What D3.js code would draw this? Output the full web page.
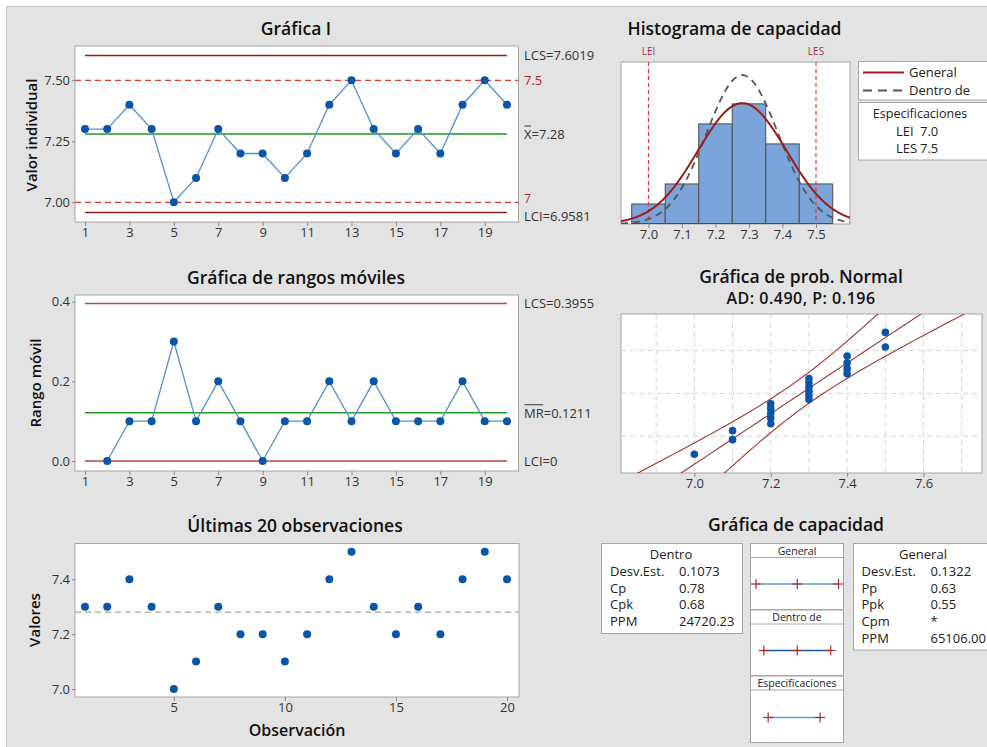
<!DOCTYPE html>
<html><head><meta charset="utf-8">
<script src="https://cdn.jsdelivr.net/npm/d3@7"></script>
<style>
body{margin:0;background:#fff}
svg{display:block}
text{font-family:"Open Sans","Noto Sans",sans-serif}
</style>
</head><body>
<svg id="c" width="987" height="747"></svg>
<script>
// ---------------- DATA ----------------
const observations = [1,2,3,4,5,6,7,8,9,10,11,12,13,14,15,16,17,18,19,20];
const values = [7.3,7.3,7.4,7.3,7.0,7.1,7.3,7.2,7.2,7.1,7.2,7.4,7.5,7.3,7.2,7.3,7.2,7.4,7.5,7.4];
const movingRanges = [null,0.0,0.1,0.1,0.3,0.1,0.2,0.1,0.0,0.1,0.1,0.2,0.1,0.2,0.1,0.1,0.1,0.2,0.1,0.1];

const iLimits = {lcs:7.6019, mean:7.28, lci:6.9581};
const specs = {lei:7.0, les:7.5};
const mrLimits = {lcs:0.3955, mean:0.1211, lci:0};
const sdWithin = 0.1073, sdOverall = 0.1322;

const binCenters = [7.0,7.1,7.2,7.3,7.4,7.5];
const binCounts  = [1,2,5,6,4,2];
const binWidth = 0.1;

const iTicksX = [1,3,5,7,9,11,13,15,17,19];
const iTicksY = [7.00,7.25,7.50];
const mrTicksY = [0.0,0.2,0.4];
const lastTicksX = [5,10,15,20];
const lastTicksY = [7.0,7.2,7.4];
const histTicksX = [7.0,7.1,7.2,7.3,7.4,7.5];
const probTicksX = [7.0,7.2,7.4,7.6];
const probGridX = [6.9,7.0,7.1,7.2,7.3,7.4,7.5,7.6,7.7];
const probGridP = [0.10,0.50,0.90];

const withinStats = [["Desv.Est.","0.1073"],["Cp","0.78"],["Cpk","0.68"],["PPM","24720.23"]];
const overallStats = [["Desv.Est.","0.1322"],["Pp","0.63"],["Ppk","0.55"],["Cpm","*"],["PPM","65106.00"]];

// ---------------- HELPERS ----------------
const svg = d3.select("#c");
const C = {
  limit:"#8f1d1d", spec:"#e03c31", green:"#1e9b1e", conn:"#5690d0", pt:"#0a55a5",
  bar:"#7ba5da", barStroke:"#4d4d4d", gen:"#9e1b1b", within:"#555", prob:"#a83232",
  txt:"#222", tick:"#333", border:"#a6a6a6"
};
svg.append("rect").attr("width",987).attr("height",747).attr("fill","#fff");
svg.append("rect").attr("x",6.5).attr("y",6.5).attr("width",990).attr("height",750)
  .attr("fill","#e3e3e3").attr("stroke","#c8c8c8");

function title(x,y,t,size,ls){
  svg.append("text").attr("x",x).attr("y",y).attr("text-anchor","middle")
    .attr("dominant-baseline","central").attr("font-size",size||17.5).attr("font-weight",600)
    .attr("letter-spacing",ls||0).attr("fill","#111").text(t);
}
function plotBox(x0,y0,x1,y1){
  svg.append("rect").attr("x",x0).attr("y",y0).attr("width",x1-x0).attr("height",y1-y0)
    .attr("fill","#fff").attr("stroke",C.border);
}
function styleAxis(g){
  g.select(".domain").remove();
  g.selectAll(".tick line").attr("stroke","#888");
  g.selectAll(".tick text").attr("font-size",13).attr("fill",C.tick)
    .attr("font-family",'"Open Sans","Noto Sans",sans-serif');
}
function xAxis(scale,ticks,y,fmt){
  const g = svg.append("g").attr("transform",`translate(0,${y})`)
    .call(d3.axisBottom(scale).tickValues(ticks).tickSize(4).tickPadding(2).tickFormat(fmt||d3.format("d")));
  styleAxis(g);
}
function yAxis(scale,ticks,x,fmt){
  const g = svg.append("g").attr("transform",`translate(${x},0)`)
    .call(d3.axisLeft(scale).tickValues(ticks).tickSize(3).tickPadding(2).tickFormat(fmt));
  styleAxis(g);
}
function yLabel(x,y,t){
  svg.append("text").attr("transform",`translate(${x},${y}) rotate(-90)`).attr("text-anchor","middle")
    .attr("dominant-baseline","central").attr("font-size",15).attr("font-weight",600).attr("fill","#111").text(t);
}
function rLabel(x,y,t,color,size){
  svg.append("text").attr("x",x).attr("y",y).attr("dominant-baseline","central")
    .attr("font-size",size||13).attr("fill",color||"#333").text(t);
}
function olLabel(x,y,over,rest,color){
  const t = svg.append("text").attr("x",x).attr("y",y).attr("dominant-baseline","central")
    .attr("font-size",13).attr("fill",color||"#333");
  t.append("tspan").text(over); t.append("tspan").text(rest);
  const w = t.node().getSubStringLength(0,over.length);
  svg.append("line").attr("x1",x+0.5).attr("x2",x+w-0.5).attr("y1",y-8).attr("y2",y-8)
    .attr("stroke",color||"#333").attr("stroke-width",1);
}
function hline(x0,x1,y,color,w,dash){
  svg.append("line").attr("x1",x0).attr("x2",x1).attr("y1",y).attr("y2",y)
    .attr("stroke",color).attr("stroke-width",w||1.3).attr("stroke-dasharray",dash||null);
}

// inverse normal CDF (Acklam)
function invNorm(p){
  const a=[-3.969683028665376e+01,2.209460984245205e+02,-2.759285104469687e+02,1.383577518672690e+02,-3.066479806614716e+01,2.506628277459239e+00];
  const b=[-5.447609879822406e+01,1.615858368580409e+02,-1.556989798598866e+02,6.680131188771972e+01,-1.328068155288572e+01];
  const c=[-7.784894002430293e-03,-3.223964580411365e-01,-2.400758277161838e+00,-2.549732539343734e+00,4.374664141464968e+00,2.938163982698783e+00];
  const d=[7.784695709041462e-03,3.224671290700398e-01,2.445134137142996e+00,3.754408661907416e+00];
  const pl=0.02425;
  let q,r;
  if(p<pl){q=Math.sqrt(-2*Math.log(p));return (((((c[0]*q+c[1])*q+c[2])*q+c[3])*q+c[4])*q+c[5])/((((d[0]*q+d[1])*q+d[2])*q+d[3])*q+1);}
  if(p>1-pl){q=Math.sqrt(-2*Math.log(1-p));return -(((((c[0]*q+c[1])*q+c[2])*q+c[3])*q+c[4])*q+c[5])/((((d[0]*q+d[1])*q+d[2])*q+d[3])*q+1);}
  q=p-0.5;r=q*q;
  return (((((a[0]*r+a[1])*r+a[2])*r+a[3])*r+a[4])*r+a[5])*q/(((((b[0]*r+b[1])*r+b[2])*r+b[3])*r+b[4])*r+1);
}
const pdf = (x,m,s)=>Math.exp(-0.5*((x-m)/s)**2)/(s*Math.sqrt(2*Math.PI));

// ---------------- GRÁFICA I ----------------
{
  const X0=75,X1=518.5,Y0=46,Y1=222;
  title(296,28,"Gráfica I");
  plotBox(X0,Y0,X1,Y1);
  const x = d3.scaleLinear().domain([0.55,20.52]).range([X0,X1]);
  const y = d3.scaleLinear().domain([6.9193,7.6406]).range([Y1,Y0]);
  xAxis(x,iTicksX,Y1);
  yAxis(y,iTicksY,X0,d3.format(".2f"));
  yLabel(31,135,"Valor individual");
  hline(x(1),x(20),y(iLimits.lcs),C.limit,1.4);
  hline(x(1),x(20),y(iLimits.lci),C.limit,1.4);
  hline(x(1),x(20),y(iLimits.mean),C.green,1.4);
  hline(X0,X1,y(specs.les),C.spec,1.3,"6,4");
  hline(X0,X1,y(specs.lei),C.spec,1.3,"6,4");
  svg.append("path").datum(values).attr("fill","none").attr("stroke",C.conn).attr("stroke-width",1.3)
    .attr("d",d3.line().x((d,i)=>x(observations[i])).y(d=>y(d)));
  svg.append("g").selectAll("circle").data(values).join("circle")
    .attr("cx",(d,i)=>x(observations[i])).attr("cy",d=>y(d)).attr("r",4).attr("fill",C.pt);
  rLabel(524,y(iLimits.lcs),"LCS=7.6019");
  rLabel(524,y(specs.les),"7.5","#a52a2a");
  olLabel(524,y(iLimits.mean),"X","=7.28");
  rLabel(524,y(specs.lei)-3.5,"7","#a52a2a",12);
  rLabel(524,y(iLimits.lci)+3,"LCI=6.9581");
}

// ---------------- RANGOS MÓVILES ----------------
{
  const X0=75,X1=518.5,Y0=295,Y1=471;
  title(296,277,"Gráfica de rangos móviles");
  plotBox(X0,Y0,X1,Y1);
  const x = d3.scaleLinear().domain([0.55,20.52]).range([X0,X1]);
  const y = d3.scaleLinear().domain([-0.0251,0.4168]).range([Y1,Y0]);
  xAxis(x,iTicksX,Y1);
  yAxis(y,mrTicksY,X0,d3.format(".1f"));
  yLabel(35,383,"Rango móvil");
  hline(x(1),x(20),y(mrLimits.lcs),"#b24a4a",1.5);
  hline(x(1),x(20),y(mrLimits.lci),"#b24a4a",1.5);
  hline(x(1),x(20),y(mrLimits.mean),C.green,1.4);
  const pts = movingRanges.map((d,i)=>[observations[i],d]).filter(p=>p[1]!==null);
  svg.append("path").datum(pts).attr("fill","none").attr("stroke",C.conn).attr("stroke-width",1.3)
    .attr("d",d3.line().x(p=>x(p[0])).y(p=>y(p[1])));
  svg.append("g").selectAll("circle").data(pts).join("circle")
    .attr("cx",p=>x(p[0])).attr("cy",p=>y(p[1])).attr("r",4).attr("fill",C.pt);
  rLabel(524,y(mrLimits.lcs),"LCS=0.3955");
  olLabel(524,y(mrLimits.mean),"MR","=0.1211");
  rLabel(524,y(mrLimits.lci),"LCI=0");
}

// ---------------- ÚLTIMAS 20 ----------------
{
  const X0=75,X1=519,Y0=543.5,Y1=697;
  title(295,525,"Últimas 20 observaciones");
  plotBox(X0,Y0,X1,Y1);
  const x = d3.scaleLinear().domain([0.55,20.54]).range([X0,X1]);
  const y = d3.scaleLinear().domain([6.9708,7.5305]).range([Y1,Y0]);
  xAxis(x,lastTicksX,Y1);
  yAxis(y,lastTicksY,X0,d3.format(".1f"));
  yLabel(34,620,"Valores");
  svg.append("text").attr("x",297).attr("y",730).attr("text-anchor","middle").attr("dominant-baseline","central")
    .attr("font-size",16).attr("font-weight",600).attr("fill","#111").text("Observación");
  hline(X0,X1,y(iLimits.mean),"#b5b5b5",1.5,"6,4");
  svg.append("g").selectAll("circle").data(values).join("circle")
    .attr("cx",(d,i)=>x(observations[i])).attr("cy",d=>y(d)).attr("r",4).attr("fill",C.pt);
}

// ---------------- HISTOGRAMA ----------------
{
  const X0=621,X1=850,Y0=62,Y1=224;
  title(734.5,28,"Histograma de capacidad");
  plotBox(X0,Y0,X1,Y1);
  const x = d3.scaleLinear().domain([6.918,7.6015]).range([X0,X1]);
  const y = d3.scaleLinear().domain([0,8.09]).range([Y1,Y0]);
  svg.append("defs").append("clipPath").attr("id","hclip").append("rect")
    .attr("x",X0).attr("y",Y0).attr("width",X1-X0).attr("height",Y1-Y0);
  svg.append("g").selectAll("rect").data(binCenters).join("rect")
    .attr("x",d=>x(d-binWidth/2)).attr("width",d=>x(d+binWidth/2)-x(d-binWidth/2))
    .attr("y",(d,i)=>y(binCounts[i])).attr("height",(d,i)=>y(0)-y(binCounts[i])-0.5)
    .attr("fill",C.bar).attr("stroke",C.barStroke).attr("stroke-width",1);
  [specs.lei,specs.les].forEach(v=>{
    svg.append("line").attr("x1",x(v)).attr("x2",x(v)).attr("y1",Y0).attr("y2",Y1)
      .attr("stroke",C.spec).attr("stroke-width",1.2).attr("stroke-dasharray","4,3");
  });
  svg.append("text").attr("x",x(specs.lei)).attr("y",51).attr("text-anchor","middle").attr("dominant-baseline","central")
    .attr("font-size",10).attr("fill","#a33040").text("LEI");
  svg.append("text").attr("x",x(specs.les)).attr("y",51).attr("text-anchor","middle").attr("dominant-baseline","central")
    .attr("font-size",10).attr("fill","#a33040").text("LES");
  const n = values.length;
  const xs = d3.range(0,301).map(i=>6.918+(7.6015-6.918)*i/300);
  const g = svg.append("g").attr("clip-path","url(#hclip)");
  g.append("path").datum(xs).attr("fill","none").attr("stroke",C.within).attr("stroke-width",1.8)
    .attr("stroke-dasharray","7,5")
    .attr("d",d3.line().x(v=>x(v)).y(v=>y(n*binWidth*pdf(v,iLimits.mean,sdWithin))));
  g.append("path").datum(xs).attr("fill","none").attr("stroke",C.gen).attr("stroke-width",2)
    .attr("d",d3.line().x(v=>x(v)).y(v=>y(n*binWidth*pdf(v,iLimits.mean,sdOverall))));
  xAxis(x,histTicksX,Y1,d3.format(".1f"));

  // legends
  svg.append("rect").attr("x",858.5).attr("y",61.5).attr("width",140).attr("height",38.5)
    .attr("fill","#fff").attr("stroke",C.border);
  svg.append("line").attr("x1",863).attr("x2",904).attr("y1",72.5).attr("y2",72.5).attr("stroke",C.gen).attr("stroke-width",2);
  svg.append("line").attr("x1",863).attr("x2",904).attr("y1",90.5).attr("y2",90.5).attr("stroke",C.within)
    .attr("stroke-width",2).attr("stroke-dasharray","9,6");
  rLabel(909,72,"General","#222");
  rLabel(909,90,"Dentro de","#222");
  svg.append("rect").attr("x",858.5).attr("y",102.5).attr("width",140).attr("height",57.5)
    .attr("fill","#fff").attr("stroke",C.border);
  svg.append("text").attr("x",920).attr("y",113).attr("text-anchor","middle").attr("dominant-baseline","central")
    .attr("font-size",12.5).attr("fill","#222").text("Especificaciones");
  rLabel(896,131,"LEI","#222"); rLabel(920,131,d3.format(".1f")(specs.lei),"#222");
  rLabel(896,148,"LES","#222"); rLabel(920,148,d3.format(".1f")(specs.les),"#222");
}

// ---------------- PROB. NORMAL ----------------
{
  const X0=621,X1=982,Y0=314,Y1=473;
  title(801,276,"Gráfica de prob. Normal");
  title(801,298,"AD: 0.490, P: 0.196",16,0.5);
  plotBox(X0,Y0,X1,Y1);
  const x = d3.scaleLinear().domain([6.808,7.753]).range([X0,X1]);
  const y = d3.scaleLinear().domain([-2.38,2.37]).range([Y1,Y0]);
  svg.append("defs").append("clipPath").attr("id","pclip").append("rect")
    .attr("x",X0).attr("y",Y0).attr("width",X1-X0).attr("height",Y1-Y0);
  const grid = svg.append("g").attr("stroke","#d4d4d4").attr("stroke-dasharray","5,4").attr("stroke-width",1);
  probGridX.forEach(v=>{ if(x(v)>X0+1 && x(v)<X1-1) grid.append("line").attr("x1",x(v)).attr("x2",x(v)).attr("y1",Y0).attr("y2",Y1); });
  probGridP.forEach(p=>{ grid.append("line").attr("x1",X0).attr("x2",X1).attr("y1",y(invNorm(p))).attr("y2",y(invNorm(p))); });
  const n = values.length;
  const sorted = values.slice().sort(d3.ascending);
  const pts = sorted.map((v,i)=>[v,invNorm((i+1-0.3)/(n+0.4))]);
  const zs = d3.range(0,201).map(i=>-2.6+5.2*i/200);
  const mid = z=>iLimits.mean+z*sdOverall;
  const hw = z=>1.96*sdOverall*Math.sqrt(1/n+z*z/(2*n));
  const g = svg.append("g").attr("clip-path","url(#pclip)");
  [z=>mid(z)-hw(z), mid, z=>mid(z)+hw(z)].forEach(f=>{
    g.append("path").datum(zs).attr("fill","none").attr("stroke",C.prob).attr("stroke-width",1.1)
      .attr("d",d3.line().x(z=>x(f(z))).y(z=>y(z)));
  });
  g.selectAll("circle").data(pts).join("circle").attr("cx",p=>x(p[0])).attr("cy",p=>y(p[1])).attr("r",3.8).attr("fill",C.pt);
  xAxis(x,probTicksX,Y1,d3.format(".1f"));
}

// ---------------- GRÁFICA DE CAPACIDAD ----------------
{
  title(796,524,"Gráfica de capacidad");
  svg.append("rect").attr("x",601.5).attr("y",543.5).attr("width",141).attr("height",90).attr("fill","#fff").attr("stroke",C.border);
  svg.append("text").attr("x",671).attr("y",553.5).attr("text-anchor","middle").attr("dominant-baseline","central")
    .attr("font-size",13).attr("fill","#222").text("Dentro");
  withinStats.forEach((r,i)=>{ rLabel(610,571+i*16.7,r[0],"#222"); rLabel(679,571+i*16.7,r[1],"#222"); });
  svg.append("rect").attr("x",853.5).attr("y",543.5).attr("width",145).attr("height",106.5).attr("fill","#fff").attr("stroke",C.border);
  svg.append("text").attr("x",923).attr("y",553.5).attr("text-anchor","middle").attr("dominant-baseline","central")
    .attr("font-size",13).attr("fill","#222").text("General");
  overallStats.forEach((r,i)=>{ rLabel(861.5,571+i*16.7,r[0],"#222"); rLabel(930.5,571+i*16.7,r[1],"#222"); });

  const x = d3.scaleLinear().domain([6.83,7.725]).range([750.5,843.5]);
  const panels = [
    {name:"General", top:543.5, bot:609.5, ly:584, lo:iLimits.mean-3*sdOverall, hi:iLimits.mean+3*sdOverall, mid:iLimits.mean, col:"#5b9bd5"},
    {name:"Dentro de", top:610, bot:675.5, ly:650.5, lo:iLimits.mean-3*sdWithin, hi:iLimits.mean+3*sdWithin, mid:iLimits.mean, col:"#1f5aa6"},
    {name:"Especificaciones", top:676, bot:742.5, ly:717.5, lo:specs.lei, hi:specs.les, mid:null, col:"#5b9bd5"}
  ];
  panels.forEach(p=>{
    svg.append("rect").attr("x",750.5).attr("y",p.top).attr("width",93).attr("height",p.bot-p.top).attr("fill","#fff").attr("stroke",C.border);
    svg.append("line").attr("x1",750.5).attr("x2",843.5).attr("y1",p.top+14).attr("y2",p.top+14).attr("stroke",C.border);
    svg.append("text").attr("x",797).attr("y",p.top+7).attr("text-anchor","middle").attr("dominant-baseline","central")
      .attr("font-size",10.5).attr("fill","#222").text(p.name);
    svg.append("line").attr("x1",x(p.lo)).attr("x2",x(p.hi)).attr("y1",p.ly).attr("y2",p.ly).attr("stroke",p.col).attr("stroke-width",1.5);
    [p.lo,p.mid,p.hi].filter(v=>v!==null).forEach(v=>{
      svg.append("line").attr("x1",x(v)-5).attr("x2",x(v)+5).attr("y1",p.ly).attr("y2",p.ly).attr("stroke","#b02c2c").attr("stroke-width",1.2);
      svg.append("line").attr("x1",x(v)).attr("x2",x(v)).attr("y1",p.ly-5).attr("y2",p.ly+5).attr("stroke","#b02c2c").attr("stroke-width",1.2);
    });
  });
}
</script>
</body></html>
